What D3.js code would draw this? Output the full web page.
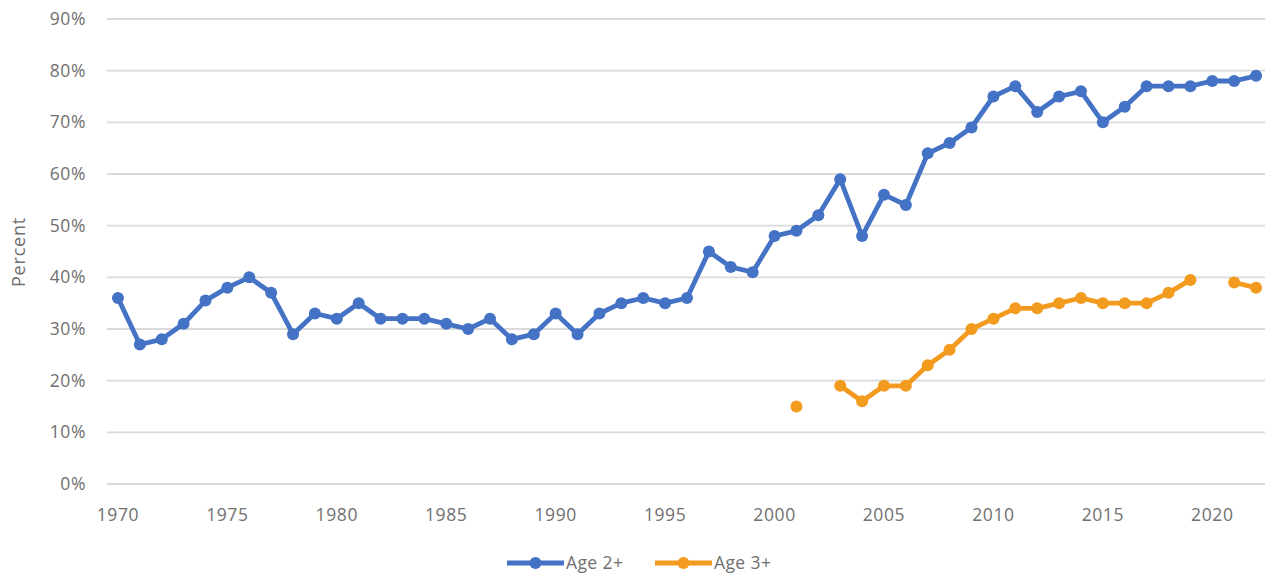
<!DOCTYPE html>
<html>
<head>
<meta charset="utf-8">
<script src="https://cdn.jsdelivr.net/npm/d3@7"></script>
<style>
  html, body { margin: 0; padding: 0; background: #ffffff; }
  svg { display: block; }
  text { font-family: "Open Sans", "Liberation Sans", sans-serif; fill: #707070; }
</style>
</head>
<body>
<svg id="chart" width="1276" height="584"></svg>
<script>
// ---- data ----
const years = [1970,1971,1972,1973,1974,1975,1976,1977,1978,1979,
               1980,1981,1982,1983,1984,1985,1986,1987,1988,1989,
               1990,1991,1992,1993,1994,1995,1996,1997,1998,1999,
               2000,2001,2002,2003,2004,2005,2006,2007,2008,2009,
               2010,2011,2012,2013,2014,2015,2016,2017,2018,2019,
               2020,2021,2022];
const age2 = [36,27,28,31,35.5,38,40,37,29,33,
              32,35,32,32,32,31,30,32,28,29,
              33,29,33,35,36,35,36,45,42,41,
              48,49,52,59,48,56,54,64,66,69,
              75,77,72,75,76,70,73,77,77,77,
              78,78,79];
const age3 = [null,null,null,null,null,null,null,null,null,null,
              null,null,null,null,null,null,null,null,null,null,
              null,null,null,null,null,null,null,null,null,null,
              null,15,null,19,16,19,19,23,26,30,
              32,34,34,35,36,35,35,35,37,39.5,
              null,39,38];
const xTickLabels = ["1970","1975","1980","1985","1990","1995","2000","2005","2010","2015","2020"];
const yTicks = [0,10,20,30,40,50,60,70,80,90];
const seriesNames = ["Age 2+","Age 3+"];
const seriesColors = ["#4472C4","#F29B1E"];
const yAxisTitle = "Percent";

// ---- layout ----
const svg = d3.select("#chart");
const mLeft = 107, mRight = 1267, mTop = 19, mBottom = 484;

const x = d3.scaleBand().domain(years).range([mLeft, mRight]).padding(0);
const cx = d => x(d) + x.bandwidth() / 2;
const y = d3.scaleLinear().domain([0, 90]).range([mBottom, mTop]);

// gridlines
svg.append("g").selectAll("line").data(yTicks).join("line")
  .attr("x1", mLeft).attr("x2", mRight - 2)
  .attr("y1", d => y(d)).attr("y2", d => y(d))
  .attr("stroke", "#dadada").attr("stroke-width", 1.8);

// y labels
svg.append("g").selectAll("text").data(yTicks).join("text")
  .attr("x", 86).attr("y", d => y(d))
  .attr("dy", "0.35em")
  .attr("text-anchor", "end")
  .style("font-size", "17.5px")
  .style("letter-spacing", "0.6px")
  .text(d => d + "%");

// x labels
svg.append("g").selectAll("text").data(xTickLabels).join("text")
  .attr("x", d => cx(+d)).attr("y", 521)
  .attr("text-anchor", "middle")
  .style("font-size", "17.5px")
  .style("letter-spacing", "0.6px")
  .text(d => d);

// y axis title
svg.append("text")
  .attr("transform", "translate(25,252) rotate(-90)")
  .attr("text-anchor", "middle")
  .style("font-size", "18px")
  .style("letter-spacing", "0.8px")
  .text(yAxisTitle);

// series
const allSeries = [age2, age3];
allSeries.forEach((vals, i) => {
  const pts = years.map((yr, k) => ({ yr, v: vals[k] }));
  const line = d3.line()
    .defined(d => d.v !== null)
    .x(d => cx(d.yr)).y(d => y(d.v));
  svg.append("path").datum(pts)
    .attr("d", line)
    .attr("fill", "none")
    .attr("stroke", seriesColors[i])
    .attr("stroke-width", 4.8)
    .attr("stroke-linejoin", "round")
    .attr("stroke-linecap", "round");
  svg.append("g").selectAll("circle").data(pts.filter(d => d.v !== null)).join("circle")
    .attr("cx", d => cx(d.yr)).attr("cy", d => y(d.v))
    .attr("r", 6)
    .attr("fill", seriesColors[i]);
});

// legend
const legendY = 563;
const legendItems = [
  { name: seriesNames[0], color: seriesColors[0], x0: 507 },
  { name: seriesNames[1], color: seriesColors[1], x0: 655 }
];
legendItems.forEach(it => {
  svg.append("line")
    .attr("x1", it.x0).attr("x2", it.x0 + 57)
    .attr("y1", legendY).attr("y2", legendY)
    .attr("stroke", it.color).attr("stroke-width", 4.8);
  svg.append("circle")
    .attr("cx", it.x0 + 28.5).attr("cy", legendY).attr("r", 6)
    .attr("fill", it.color);
  svg.append("text")
    .attr("x", it.x0 + 59).attr("y", legendY)
    .attr("dy", "0.35em")
    .style("font-size", "17.5px")
    .style("letter-spacing", "0.4px")
    .text(it.name);
});
</script>
</body>
</html>
